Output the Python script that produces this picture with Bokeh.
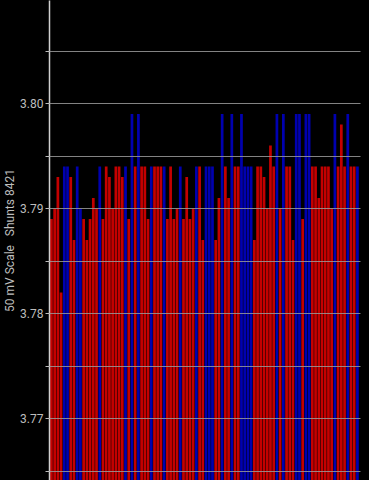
from bokeh.plotting import figure
from bokeh.models import Range1d, FixedTicker, ColumnDataSource, PrintfTickFormatter, GlobalInlineStyleSheet
from bokeh.embed import file_html
from bokeh.resources import INLINE

# Readings (V), left to right
voltages = [
    3.789, 3.790, 3.793, 3.782, 3.794, 3.794, 3.793, 3.787, 3.794, 3.790,
    3.789, 3.787, 3.789, 3.791, 3.790, 3.794, 3.789, 3.794, 3.793, 3.790,
    3.794, 3.794, 3.793, 3.794, 3.789, 3.799, 3.794, 3.799, 3.794, 3.794,
    3.789, 3.794, 3.794, 3.794, 3.794, 3.794, 3.789, 3.794, 3.789, 3.790,
    3.794, 3.789, 3.793, 3.789, 3.790, 3.794, 3.794, 3.787, 3.794, 3.794,
    3.794, 3.787, 3.791, 3.799, 3.794, 3.791, 3.799, 3.794, 3.794, 3.799,
    3.794, 3.794, 3.794, 3.787, 3.794, 3.794, 3.793, 3.790, 3.796, 3.794,
    3.799, 3.790, 3.799, 3.794, 3.794, 3.787, 3.799, 3.799, 3.789, 3.799,
    3.799, 3.794, 3.794, 3.791, 3.794, 3.794, 3.794, 3.790, 3.799, 3.794,
    3.798, 3.794, 3.799, 3.794, 3.794, 3.794,
]
# Bar colour group (R = red, B = blue)
groups = [
    "R", "R", "R", "R", "B", "B", "R", "R", "B", "B",
    "R", "R", "R", "R", "R", "B", "R", "R", "R", "R",
    "R", "R", "R", "B", "R", "B", "R", "B", "R", "R",
    "R", "B", "R", "R", "R", "B", "R", "R", "R", "R",
    "B", "R", "R", "R", "R", "B", "R", "R", "B", "B",
    "B", "R", "R", "B", "R", "R", "B", "R", "R", "B",
    "B", "B", "B", "R", "R", "R", "R", "R", "R", "R",
    "B", "R", "B", "R", "R", "R", "B", "B", "R", "B",
    "B", "R", "R", "R", "R", "R", "R", "R", "B", "R",
    "R", "R", "B", "R", "R", "B",
]
y_ticks = [3.77, 3.78, 3.79, 3.80, 3.81]
y_minor_ticks = [3.765, 3.775, 3.785, 3.795, 3.805]
axis_title = "50 mV Scale\u00a0\u00a0\u00a0Shunts 8421"

palette = {"R": "#c40000", "B": "#0000b0"}

src = ColumnDataSource(dict(
    x=list(range(len(voltages))),
    top=voltages,
    color=[palette[g] for g in groups],
))

p = figure(width=369, height=480, output_backend="svg", toolbar_location=None,
           x_range=Range1d(-0.6, len(voltages) - 0.05),
           y_range=Range1d(3.7641, 3.80981),
           background_fill_color="black", border_fill_color="black",
           min_border_top=0, min_border_bottom=0, min_border_right=9, min_border_left=0)
p.outline_line_color = None
p.stylesheets = [GlobalInlineStyleSheet(css="html, body { background: #000; }")]

p.vbar(x="x", top="top", bottom=3.76, width=0.84, fill_color="color",
       line_color=None, source=src)

p.xaxis.visible = False
p.xgrid.visible = False

ax = p.yaxis[0]
ax.ticker = FixedTicker(ticks=y_ticks, minor_ticks=y_minor_ticks)
ax.formatter = PrintfTickFormatter(format="%.2f")
ax.axis_label = axis_title
ax.axis_label_text_font = "Roboto"
ax.axis_label_text_font_style = "normal"
ax.axis_label_text_font_size = "12px"
ax.axis_label_text_color = "#bdbdbd"
ax.axis_label_standoff = 0
ax.major_label_text_font = "Roboto"
ax.major_label_text_font_size = "12px"
ax.major_label_text_color = "#bdbdbd"
ax.major_label_standoff = 2
ax.axis_line_color = "#cfcfcf"
ax.axis_line_width = 1.5
ax.major_tick_in = 0
ax.major_tick_out = 4
ax.minor_tick_in = 0
ax.minor_tick_out = 4
ax.major_tick_line_color = "#bdbdbd"
ax.minor_tick_line_color = "#bdbdbd"

g = p.ygrid[0]
g.ticker = FixedTicker(ticks=y_ticks, minor_ticks=y_minor_ticks)
g.level = "overlay"
g.grid_line_color = "#9a9a9a"
g.grid_line_alpha = 0.85
g.minor_grid_line_color = "#9a9a9a"
g.minor_grid_line_alpha = 0.85

open("out.html", "w").write(file_html(p, INLINE))
